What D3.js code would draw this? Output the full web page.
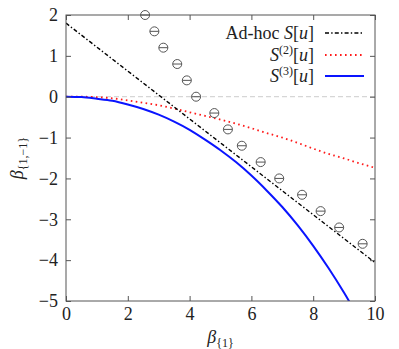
<!DOCTYPE html>
<html>
<head>
<meta charset="utf-8">
<script src="https://cdn.jsdelivr.net/npm/d3@7"></script>
<style>
  body { margin: 0; background: #fff; }
  svg { display: block; }
  text { font-family: "Liberation Serif", "DejaVu Serif", serif; fill: #222; }
</style>
</head>
<body>
<svg width="399" height="349"></svg>
<script>
const xTicks = [0, 2, 4, 6, 8, 10]
const yTicks = [-5, -4, -3, -2, -1, 0, 1, 2]

// ad-hoc S[u] (straight line)
const adhocX = [0, 10]
const adhocY = [1.8, -4.06]

// S^(2)[u]
const s2X = [0, 0.5, 1, 1.5, 2, 2.5, 3, 3.5, 4, 4.5, 5, 5.5, 6, 6.5, 7, 7.5, 8, 8.5, 9, 9.5, 10]
const s2Y = [0, 0, -0.01, -0.04, -0.09, -0.15, -0.21, -0.29, -0.38, -0.47, -0.56, -0.66, -0.77, -0.89, -1.0, -1.13, -1.27, -1.4, -1.51, -1.63, -1.74]

// S^(3)[u]
const s3X = [0, 0.5, 1, 1.5, 2, 2.5, 3, 3.5, 4, 4.5, 5, 5.5, 6, 6.5, 7, 7.5, 8, 8.5, 9, 9.5]
const s3Y = [0, -0.01, -0.05, -0.1, -0.19, -0.3, -0.44, -0.61, -0.81, -1.05, -1.31, -1.6, -1.93, -2.3, -2.7, -3.15, -3.65, -4.2, -4.8, -5.45]

// measured points
const ptX = [2.56, 2.86, 3.15, 3.6, 3.91, 4.21, 4.8, 5.24, 5.69, 6.3, 6.9, 7.64, 8.24, 8.84, 9.6]
const ptY = [2.0, 1.6, 1.2, 0.8, 0.4, 0.0, -0.4, -0.8, -1.2, -1.6, -2.0, -2.4, -2.8, -3.2, -3.6]

const margin = { left: 66, right: 24, top: 15, bottom: 48 }
const width = 399
const height = 349
const serif = '"Liberation Serif", "DejaVu Serif", serif'

const svg = d3.select('svg')

const x = d3.scaleLinear().domain([0, 10]).range([margin.left, width - margin.right])
const y = d3.scaleLinear().domain([-5, 2]).range([height - margin.bottom, margin.top])

svg.append('defs').append('clipPath').attr('id', 'clip')
  .append('rect')
  .attr('x', x(0)).attr('y', y(2))
  .attr('width', x(10) - x(0)).attr('height', y(-5) - y(2))

// zero reference
svg.append('line')
  .attr('x1', x(0)).attr('x2', x(10))
  .attr('y1', y(0)).attr('y2', y(0))
  .attr('stroke', '#ccc')
  .attr('stroke-width', 1)
  .attr('stroke-dasharray', '5,3')

const plot = svg.append('g').attr('clip-path', 'url(#clip)')

const line = d3.line().x(d => x(d[0])).y(d => y(d[1])).curve(d3.curveMonotoneX)

plot.append('path')
  .datum(d3.zip(s2X, s2Y))
  .attr('d', line)
  .attr('fill', 'none')
  .attr('stroke', '#ff1a1a')
  .attr('stroke-width', 1.8)
  .attr('stroke-dasharray', '1.6,3.4')

plot.append('path')
  .datum(d3.zip(adhocX, adhocY))
  .attr('d', line)
  .attr('fill', 'none')
  .attr('stroke', '#000')
  .attr('stroke-width', 1.4)
  .attr('stroke-dasharray', '4,2.2,1.4,2.2')

plot.append('path')
  .datum(d3.zip(s3X, s3Y))
  .attr('d', line)
  .attr('fill', 'none')
  .attr('stroke', '#0a14ff')
  .attr('stroke-width', 2)

const marks = svg.append('g')
  .selectAll('g')
  .data(d3.zip(ptX, ptY))
  .join('g')
  .attr('transform', d => `translate(${x(d[0])},${y(d[1])})`)
marks.append('circle')
  .attr('r', 4.5)
  .attr('fill', 'none')
  .attr('stroke', '#555')
  .attr('stroke-width', 1)
marks.append('line')
  .attr('x1', -4.5).attr('x2', 4.5)
  .attr('stroke', '#555')
  .attr('stroke-width', 1)

// frame + inward ticks
svg.append('rect')
  .attr('x', x(0)).attr('y', y(2))
  .attr('width', x(10) - x(0)).attr('height', y(-5) - y(2))
  .attr('fill', 'none')
  .attr('stroke', '#555')
  .attr('stroke-width', 1)

function styleAxis(g) {
  g.attr('font-family', serif).attr('font-size', 18)
  g.select('.domain').remove()
  g.selectAll('.tick line').attr('stroke', '#555')
  g.selectAll('.tick text').attr('fill', '#222').style('font-family', serif)
}

const fmt = d3.format('d')

svg.append('g')
  .attr('transform', `translate(0,${y(-5)})`)
  .call(d3.axisBottom(x).tickValues(xTicks).tickFormat(fmt).tickSize(-5).tickPadding(6))
  .call(styleAxis)

svg.append('g')
  .attr('transform', `translate(${x(0)},0)`)
  .call(d3.axisLeft(y).tickValues(yTicks).tickFormat(fmt).tickSize(-5).tickPadding(8))
  .call(styleAxis)

svg.append('g')
  .attr('transform', `translate(0,${y(2)})`)
  .call(d3.axisTop(x).tickValues(xTicks).tickSize(-5).tickFormat(''))
  .call(styleAxis)

svg.append('g')
  .attr('transform', `translate(${x(10)},0)`)
  .call(d3.axisRight(y).tickValues(yTicks).tickSize(-5).tickFormat(''))
  .call(styleAxis)

// axis titles
const xt = svg.append('text')
  .attr('x', (x(0) + x(10)) / 2)
  .attr('y', 343)
  .attr('text-anchor', 'middle')
  .style('font-size', '18px')
xt.append('tspan').style('font-style', 'italic').text('β')
xt.append('tspan').attr('dy', 4).style('font-size', '12px').text('{1}')

const yt = svg.append('text')
  .attr('transform', `translate(23,${(y(2) + y(-5)) / 2}) rotate(-90)`)
  .attr('text-anchor', 'middle')
  .style('font-size', '18px')
yt.append('tspan').style('font-style', 'italic').text('β')
yt.append('tspan').attr('dy', 4).style('font-size', '12px').text('{1,−1}')

// legend
const legend = [
  { pre: 'Ad-hoc ', sup: null, color: '#000', dash: '4,2.2,1.4,2.2', w: 1.4 },
  { pre: '', sup: '(2)', color: '#ff1a1a', dash: '1.6,3.4', w: 1.8 },
  { pre: '', sup: '(3)', color: '#0a14ff', dash: null, w: 2 }
]
const legendY = [33, 55, 76]

legend.forEach((d, i) => {
  const t = svg.append('text')
    .attr('x', 314)
    .attr('y', legendY[i] + 6)
    .attr('text-anchor', 'end')
    .style('font-size', '18px')
  if (d.pre) t.append('tspan').text(d.pre)
  t.append('tspan').style('font-style', 'italic').text('S')
  if (d.sup) t.append('tspan').attr('dy', -7).style('font-size', '12px').text(d.sup)
  t.append('tspan').attr('dy', d.sup ? 7 : 0).text('[')
  t.append('tspan').style('font-style', 'italic').text('u')
  t.append('tspan').text(']')

  svg.append('line')
    .attr('x1', 325).attr('x2', 364)
    .attr('y1', legendY[i]).attr('y2', legendY[i])
    .attr('stroke', d.color)
    .attr('stroke-width', d.w)
    .attr('stroke-dasharray', d.dash)
})
</script>
</body>
</html>
